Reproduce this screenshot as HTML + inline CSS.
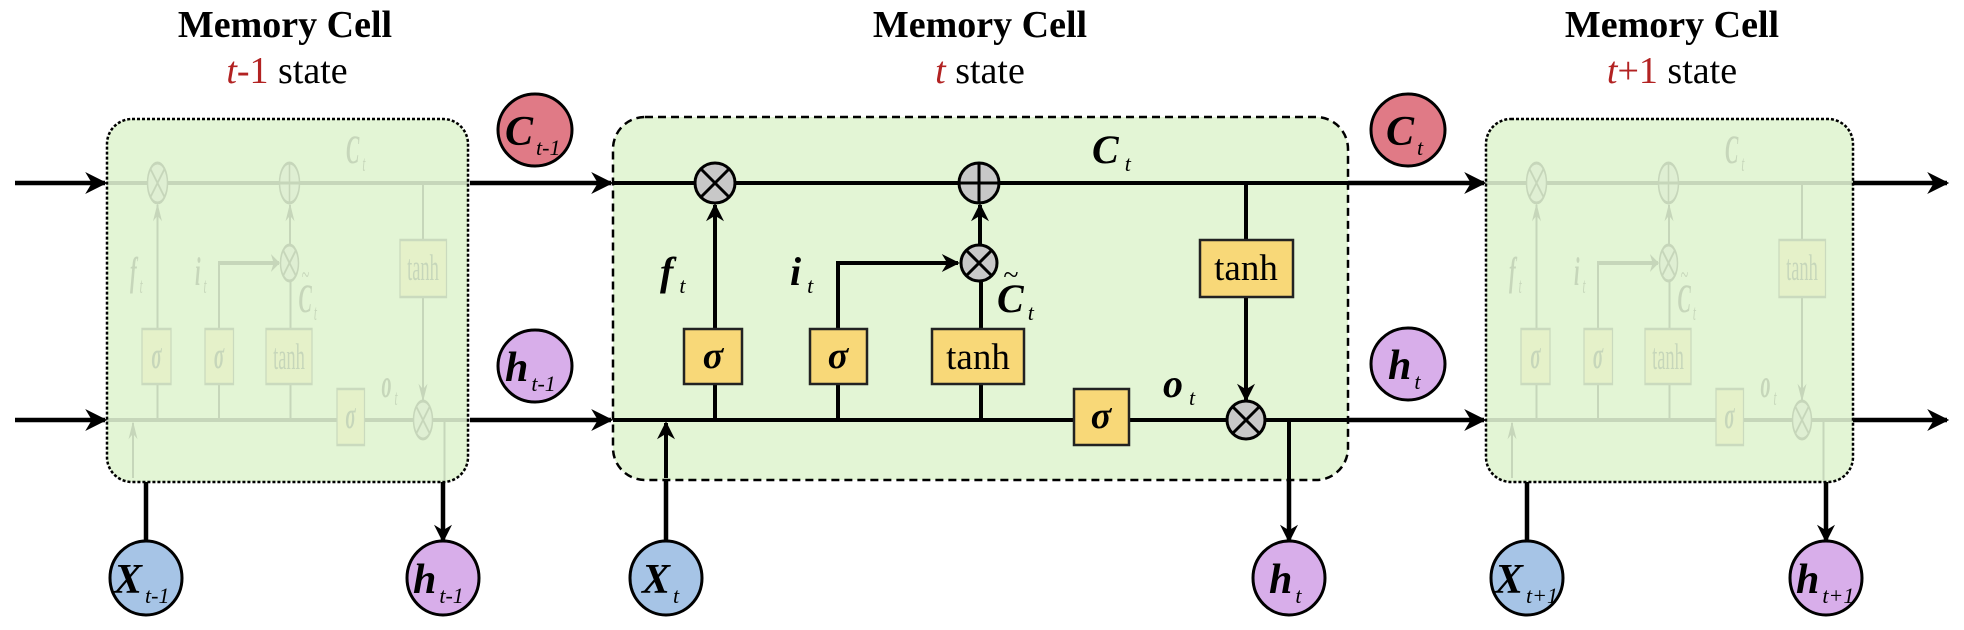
<!DOCTYPE html>
<html><head><meta charset="utf-8"><style>
html,body{margin:0;padding:0;background:#fff}
svg{display:block}
text{font-family:"Liberation Serif",serif}
</style></head><body>
<svg width="1964" height="630" viewBox="0 0 1964 630" xmlns="http://www.w3.org/2000/svg">
<defs>
<marker id="ahb" viewBox="0 0 10 10" refX="9" refY="5" markerWidth="34" markerHeight="22" orient="auto" markerUnits="userSpaceOnUse">
<path d="M0,0 L10,5 L0,10 L3,5 z" fill="#000"/></marker>
<marker id="ahm" viewBox="0 0 10 10" refX="9" refY="5" markerWidth="24" markerHeight="18" orient="auto" markerUnits="userSpaceOnUse">
<path d="M0,0 L10,5 L0,10 L3,5 z" fill="#000"/></marker>
<g id="cell-inner">
<line x1="613" y1="183" x2="1348" y2="183" stroke="#000" stroke-width="4"/>
<line x1="613" y1="420" x2="1348" y2="420" stroke="#000" stroke-width="4"/>
<line x1="715" y1="329" x2="715" y2="205" stroke="#000" stroke-width="4" marker-end="url(#ahm)"/>
<line x1="715" y1="384" x2="715" y2="420" stroke="#000" stroke-width="4"/>
<polyline points="838,329 838,263 958,263" fill="none" stroke="#000" stroke-width="4" marker-end="url(#ahm)"/>
<line x1="838" y1="384" x2="838" y2="420" stroke="#000" stroke-width="4"/>
<line x1="981" y1="329" x2="981" y2="281"/>
<line x1="981" y1="329" x2="981" y2="281" stroke="#000" stroke-width="4"/>
<line x1="981" y1="384" x2="981" y2="420" stroke="#000" stroke-width="4"/>
<line x1="980" y1="245" x2="980" y2="205" stroke="#000" stroke-width="4" marker-end="url(#ahm)"/>
<line x1="1246" y1="183" x2="1246" y2="240" stroke="#000" stroke-width="4"/>
<line x1="1246" y1="297" x2="1246" y2="400" stroke="#000" stroke-width="4" marker-end="url(#ahm)"/>
<line x1="666" y1="478" x2="666" y2="423" stroke="#000" stroke-width="4" marker-end="url(#ahm)"/>
<line x1="1289" y1="420" x2="1289" y2="480" stroke="#000" stroke-width="4"/>
<g stroke="#000" stroke-width="3">
<circle cx="715" cy="183" r="20" fill="#c8c8c8"/>
<line x1="701" y1="169" x2="729" y2="197"/><line x1="729" y1="169" x2="701" y2="197"/>
<circle cx="979" cy="183" r="20" fill="#c8c8c8"/>
<line x1="959" y1="183" x2="999" y2="183"/><line x1="979" y1="163" x2="979" y2="203"/>
<circle cx="979" cy="263" r="18" fill="#c8c8c8"/>
<line x1="966" y1="250" x2="992" y2="276"/><line x1="992" y1="250" x2="966" y2="276"/>
<circle cx="1246" cy="420" r="19" fill="#c8c8c8"/>
<line x1="1233" y1="407" x2="1259" y2="433"/><line x1="1259" y1="407" x2="1233" y2="433"/>
</g>
<g stroke="#222" stroke-width="2.5" fill="#f8d878">
<rect x="684" y="329" width="58" height="55"/>
<rect x="810" y="329" width="57" height="55"/>
<rect x="932" y="329" width="92" height="55"/>
<rect x="1074" y="389" width="55" height="56"/>
<rect x="1200" y="240" width="93" height="57"/>
</g>
<g font-size="38" text-anchor="middle">
<text x="713" y="368" font-style="italic" font-weight="bold">σ</text>
<text x="838" y="368" font-style="italic" font-weight="bold">σ</text>
<text x="1101" y="428" font-style="italic" font-weight="bold">σ</text>
<text x="978" y="369" font-size="37">tanh</text>
<text x="1246" y="280" font-size="37">tanh</text>
</g>
<g font-style="italic" font-weight="bold" font-size="40">
<text x="660" y="285">f<tspan font-size="22" dy="8" font-weight="normal" dx="6">t</tspan></text>
<text x="790" y="285">i<tspan font-size="22" dy="8" font-weight="normal" dx="6">t</tspan></text>
<text x="1092" y="163">C<tspan font-size="22" dy="8" font-weight="normal" dx="6">t</tspan></text>
<text x="997" y="312">C<tspan font-size="22" dy="8" font-weight="normal" dx="4">t</tspan></text>
<text x="1003" y="284" font-weight="normal" font-size="28">~</text>
<text x="1163" y="397">o<tspan font-size="22" dy="8" font-weight="normal" dx="6">t</tspan></text>
</g>
</g>
</defs>

<g text-anchor="middle">
<text x="285" y="37" font-size="38" font-weight="bold">Memory Cell</text>
<text x="287" y="83" font-size="38"><tspan fill="#b22222" font-style="italic">t</tspan><tspan fill="#b22222">-1</tspan> state</text>
<text x="980" y="37" font-size="38" font-weight="bold">Memory Cell</text>
<text x="980" y="83" font-size="38"><tspan fill="#b22222" font-style="italic">t</tspan> state</text>
<text x="1672" y="37" font-size="38" font-weight="bold">Memory Cell</text>
<text x="1672" y="83" font-size="38"><tspan fill="#b22222" font-style="italic">t</tspan><tspan fill="#b22222">+1</tspan> state</text>
</g>

<rect x="107" y="119" width="361" height="363" rx="25" fill="#e3f5d5" stroke="#000" stroke-width="2.5" stroke-dasharray="3,2"/>
<rect x="613" y="117" width="735" height="363" rx="32" fill="#e3f5d5" stroke="#000" stroke-width="2.5" stroke-dasharray="8,5"/>
<rect x="1486" y="119" width="367" height="363" rx="25" fill="#e3f5d5" stroke="#000" stroke-width="2.5" stroke-dasharray="3,2"/>

<g opacity="0.12"><use href="#cell-inner" transform="translate(-200,0) scale(0.5,1)"/></g>
<use href="#cell-inner"/>
<g opacity="0.12"><use href="#cell-inner" transform="translate(1179,0) scale(0.5,1)"/></g>

<g stroke="#000" stroke-width="4.5">
<line x1="15" y1="183" x2="105" y2="183" marker-end="url(#ahb)"/>
<line x1="15" y1="420" x2="105" y2="420" marker-end="url(#ahb)"/>
<line x1="470" y1="183" x2="611" y2="183" marker-end="url(#ahb)"/>
<line x1="470" y1="420" x2="611" y2="420" marker-end="url(#ahb)"/>
<line x1="1348" y1="183" x2="1484" y2="183" marker-end="url(#ahb)"/>
<line x1="1348" y1="420" x2="1484" y2="420" marker-end="url(#ahb)"/>
<line x1="1853" y1="183" x2="1947" y2="183" marker-end="url(#ahb)"/>
<line x1="1853" y1="420" x2="1947" y2="420" marker-end="url(#ahb)"/>
<line x1="146" y1="482" x2="146" y2="545"/>
<line x1="443" y1="482" x2="443" y2="541" marker-end="url(#ahm)"/>
<line x1="666" y1="480" x2="666" y2="545"/>
<line x1="1289" y1="480" x2="1289" y2="541" marker-end="url(#ahm)"/>
<line x1="1527" y1="482" x2="1527" y2="545"/>
<line x1="1826" y1="482" x2="1826" y2="541" marker-end="url(#ahm)"/>
</g>

<g stroke="#000" stroke-width="3" font-style="italic" font-weight="bold" font-size="42">
<g><ellipse cx="535" cy="130" rx="37" ry="36" fill="#e07a86"/><text x="505" y="145" stroke="none">C<tspan font-size="22" font-weight="normal" dx="3" dy="10">t-1</tspan></text></g>
<g><ellipse cx="535" cy="366" rx="37" ry="36" fill="#d8aeea"/><text x="505" y="381" stroke="none">h<tspan font-size="22" font-weight="normal" dx="3" dy="10">t-1</tspan></text></g>
<g><ellipse cx="1408" cy="130" rx="37" ry="36" fill="#e07a86"/><text x="1386" y="145" stroke="none">C<tspan font-size="22" font-weight="normal" dx="3" dy="10">t</tspan></text></g>
<g><ellipse cx="1408" cy="364" rx="37" ry="36" fill="#d8aeea"/><text x="1388" y="379" stroke="none">h<tspan font-size="22" font-weight="normal" dx="3" dy="10">t</tspan></text></g>
<g><ellipse cx="146" cy="578" rx="36" ry="37" fill="#a6c4e6"/><text x="114" y="593" stroke="none">X<tspan font-size="22" font-weight="normal" dx="3" dy="10">t-1</tspan></text></g>
<g><ellipse cx="443" cy="578" rx="36" ry="37" fill="#d8aeea"/><text x="413" y="593" stroke="none">h<tspan font-size="22" font-weight="normal" dx="3" dy="10">t-1</tspan></text></g>
<g><ellipse cx="666" cy="578" rx="36" ry="37" fill="#a6c4e6"/><text x="642" y="593" stroke="none">X<tspan font-size="22" font-weight="normal" dx="3" dy="10">t</tspan></text></g>
<g><ellipse cx="1289" cy="578" rx="36" ry="37" fill="#d8aeea"/><text x="1269" y="593" stroke="none">h<tspan font-size="22" font-weight="normal" dx="3" dy="10">t</tspan></text></g>
<g><ellipse cx="1527" cy="578" rx="36" ry="37" fill="#a6c4e6"/><text x="1495" y="593" stroke="none">X<tspan font-size="22" font-weight="normal" dx="3" dy="10">t+1</tspan></text></g>
<g><ellipse cx="1826" cy="578" rx="36" ry="37" fill="#d8aeea"/><text x="1796" y="593" stroke="none">h<tspan font-size="22" font-weight="normal" dx="3" dy="10">t+1</tspan></text></g>
</g>
</svg>
</body></html>
